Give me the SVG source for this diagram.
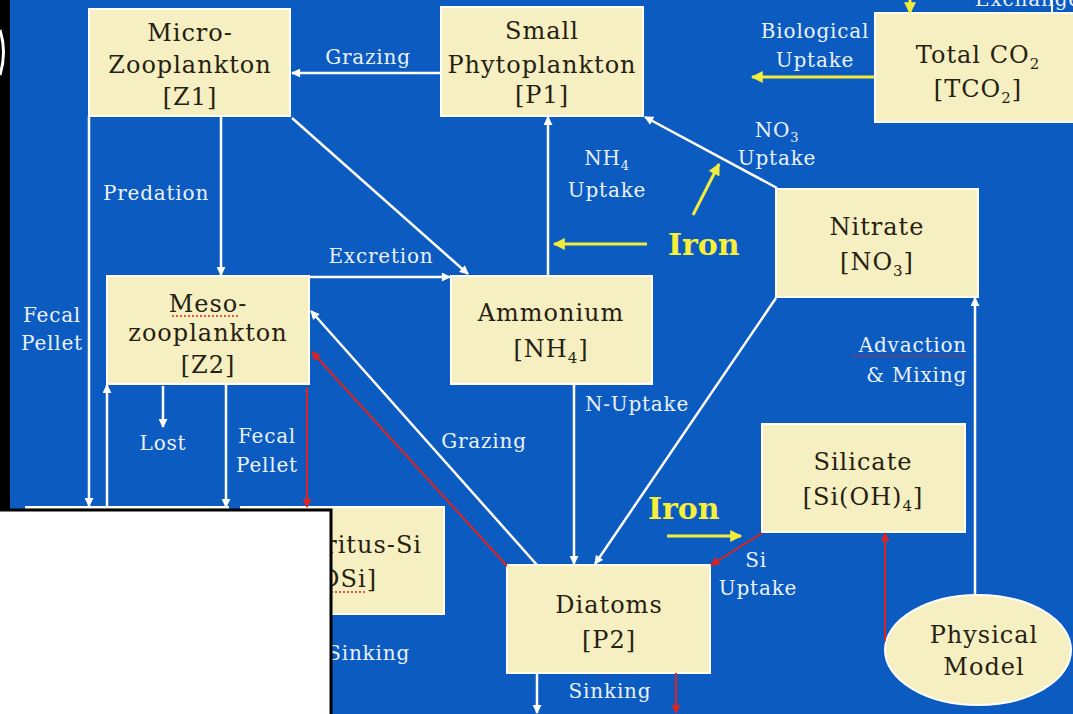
<svg xmlns="http://www.w3.org/2000/svg" width="1073" height="714" viewBox="0 0 1073 714">
<defs>
<style>
.bx{fill:#f6efc2;stroke:#ffffff;stroke-width:2}
.n{font-family:"DejaVu Serif",serif;font-size:24px;letter-spacing:1px;fill:#261f12;text-anchor:middle}
.l{font-family:"DejaVu Serif",serif;font-size:20px;letter-spacing:0.8px;fill:#eaf2ff;text-anchor:middle}
.fe{font-family:"DejaVu Serif",serif;font-size:30px;font-weight:bold;fill:#f7ef3c}
.w{stroke:#ffffff;stroke-width:2.5;fill:none}
.y{stroke:#f4ec3c;stroke-width:3;fill:none}
.r{stroke:#e0241c;stroke-width:2;fill:none}
.sq{stroke:#e0241c;stroke-width:1.5;stroke-dasharray:2 2;fill:none}
</style>
<marker id="aw" viewBox="0 0 10 10" refX="9" refY="5" markerWidth="10" markerHeight="9" markerUnits="userSpaceOnUse" orient="auto"><path d="M0,0 L10,5 L0,10 z" fill="#ffffff"/></marker>
<marker id="ay" viewBox="0 0 10 10" refX="9" refY="5" markerWidth="13" markerHeight="12" markerUnits="userSpaceOnUse" orient="auto"><path d="M0,0 L10,5 L0,10 z" fill="#f4ec3c"/></marker>
<marker id="ar" viewBox="0 0 10 10" refX="9" refY="5" markerWidth="10" markerHeight="9" markerUnits="userSpaceOnUse" orient="auto"><path d="M0,0 L10,5 L0,10 z" fill="#e0241c"/></marker>
</defs>
<rect x="0" y="0" width="1073" height="714" fill="#0b5bc1"/>
<rect x="0" y="0" width="10" height="512" fill="#000"/>
<path d="M0,30 Q7,52 0,75" stroke="#fff" stroke-width="3" fill="none"/>
<text class="l" x="1028" y="6">Exchange</text>
<line x1="1052" y1="0" x2="1052" y2="13" stroke="#fff" stroke-width="2"/>

<g id="Z1"><rect class="bx" x="89" y="9" width="201" height="107"/><text class="n" x="190" y="41">Micro-</text><text class="n" x="190" y="73">Zooplankton</text><text class="n" x="190" y="105">[Z1]</text></g>
<g id="P1"><rect class="bx" x="441" y="7" width="202" height="109"/><text class="n" x="542" y="39">Small</text><text class="n" x="542" y="73">Phytoplankton</text><text class="n" x="542" y="103">[P1]</text></g>
<g id="TCO2"><rect class="bx" x="875" y="13" width="200" height="109"/><text class="n" x="978" y="63">Total CO<tspan font-size="15" dy="6">2</tspan></text><text class="n" x="978" y="97">[TCO<tspan font-size="15" dy="6">2</tspan><tspan dy="-6">]</tspan></text></g>
<g id="NO3"><rect class="bx" x="776" y="189" width="202" height="108"/><text class="n" x="877" y="235">Nitrate</text><text class="n" x="877" y="270">[NO<tspan font-size="15" dy="6">3</tspan><tspan dy="-6">]</tspan></text></g>
<g id="Z2"><rect class="bx" x="107" y="276" width="202" height="108"/><text class="n" x="208" y="312">Meso-</text><line class="sq" x1="172" y1="316" x2="238" y2="316"/><text class="n" x="208" y="341">zooplankton</text><text class="n" x="208" y="373">[Z2]</text></g>
<g id="NH4"><rect class="bx" x="451" y="276" width="201" height="108"/><text class="n" x="551" y="321">Ammonium</text><text class="n" x="551" y="357">[NH<tspan font-size="15" dy="6">4</tspan><tspan dy="-6">]</tspan></text></g>
<g id="SiOH4"><rect class="bx" x="762" y="424" width="203" height="108"/><text class="n" x="863" y="470">Silicate</text><text class="n" x="863" y="505">[Si(OH)<tspan font-size="15" dy="6">4</tspan><tspan dy="-6">]</tspan></text></g>
<g id="DN"><rect class="bx" x="26" y="507" width="202" height="107"/></g>
<g id="DSi"><rect class="bx" x="241" y="507" width="203" height="107"/><text class="n" x="422" y="553" style="text-anchor:end">Detritus-Si</text><text class="n" x="377" y="587" style="text-anchor:end">[DSi]</text><line class="sq" x1="331" y1="592" x2="366" y2="592"/></g>
<g id="P2"><rect class="bx" x="507" y="565" width="203" height="108"/><text class="n" x="609" y="613">Diatoms</text><text class="n" x="609" y="648">[P2]</text></g>
<g id="PM"><ellipse cx="978" cy="650" rx="93" ry="55" fill="#f6efc2" stroke="#fff" stroke-width="2"/><text class="n" x="984" y="643">Physical</text><text class="n" x="984" y="675">Model</text></g>

<g id="connectors">
<line class="w" x1="441" y1="73" x2="292" y2="73" marker-end="url(#aw)"/>
<line class="w" x1="221" y1="116" x2="221" y2="275" marker-end="url(#aw)"/>
<line class="w" x1="292" y1="118" x2="468" y2="274" marker-end="url(#aw)"/>
<line class="w" x1="310" y1="277" x2="450" y2="277" marker-end="url(#aw)"/>
<line class="w" x1="548" y1="276" x2="548" y2="117" marker-end="url(#aw)"/>
<line class="w" x1="777" y1="188" x2="645" y2="117" marker-end="url(#aw)"/>
<line class="y" x1="647" y1="244" x2="554" y2="244" marker-end="url(#ay)"/>
<line class="y" x1="693" y1="215" x2="719" y2="164" marker-end="url(#ay)"/>
<line class="w" x1="574" y1="384" x2="574" y2="564" marker-end="url(#aw)"/>
<line class="w" x1="776" y1="298" x2="595" y2="564" marker-end="url(#aw)"/>
<line class="w" x1="537" y1="565" x2="311" y2="311" marker-end="url(#aw)"/>
<line class="r" x1="507" y1="566" x2="312" y2="352" marker-end="url(#ar)"/>
<line class="r" x1="307" y1="388" x2="307" y2="507" marker-end="url(#ar)"/>
<line class="w" x1="163" y1="386" x2="163" y2="427" marker-end="url(#aw)"/>
<line class="w" x1="226" y1="384" x2="226" y2="507" marker-end="url(#aw)"/>
<line class="w" x1="89" y1="116" x2="89" y2="506" marker-end="url(#aw)"/>
<line class="w" x1="107" y1="507" x2="107" y2="385" marker-end="url(#aw)"/>
<line class="w" x1="537" y1="673" x2="537" y2="713" marker-end="url(#aw)"/>
<line class="r" x1="676" y1="673" x2="676" y2="713" marker-end="url(#ar)"/>
<line class="r" x1="762" y1="533" x2="711" y2="565" marker-end="url(#ar)"/>
<line class="y" x1="667" y1="536" x2="741" y2="536" marker-end="url(#ay)"/>
<line class="r" x1="885" y1="641" x2="885" y2="533" marker-end="url(#ar)"/>
<line class="w" x1="975" y1="595" x2="975" y2="298" marker-end="url(#aw)"/>
<line class="y" x1="874" y1="77" x2="752" y2="77" marker-end="url(#ay)"/>
<line class="y" x1="910" y1="0" x2="910" y2="13" marker-end="url(#ay)"/>
</g>

<g id="labels">
<text class="l" x="368" y="64">Grazing</text>
<text class="l" x="156" y="200">Predation</text>
<text class="l" x="381" y="263">Excretion</text>
<text class="l" x="607" y="165">NH<tspan font-size="13" dy="5">4</tspan></text>
<text class="l" x="607" y="197">Uptake</text>
<text class="l" x="777" y="137">NO<tspan font-size="13" dy="5">3</tspan></text>
<text class="l" x="777" y="165">Uptake</text>
<text class="fe" x="668" y="255">Iron</text>
<text class="l" x="637" y="411">N-Uptake</text>
<text class="l" x="484" y="448">Grazing</text>
<text class="l" x="163" y="450">Lost</text>
<text class="l" x="267" y="443">Fecal</text>
<text class="l" x="267" y="472">Pellet</text>
<text class="l" x="52" y="322">Fecal</text>
<text class="l" x="52" y="350">Pellet</text>
<text class="fe" x="648" y="519">Iron</text>
<text class="l" x="756" y="567">Si</text>
<text class="l" x="758" y="595">Uptake</text>
<text class="l" x="610" y="698">Sinking</text>
<text class="l" x="410" y="660" style="text-anchor:end">Sinking</text>
<text class="l" x="967" y="352" style="text-anchor:end">Advaction</text>
<line class="sq" x1="853" y1="356" x2="966" y2="356"/>
<text class="l" x="967" y="382" style="text-anchor:end">&amp; Mixing</text>
<text class="l" x="815" y="38">Biological</text>
<text class="l" x="815" y="67">Uptake</text>
</g>

<rect x="-2" y="510" width="333" height="206" fill="#ffffff" stroke="#000" stroke-width="3"/>
</svg>
